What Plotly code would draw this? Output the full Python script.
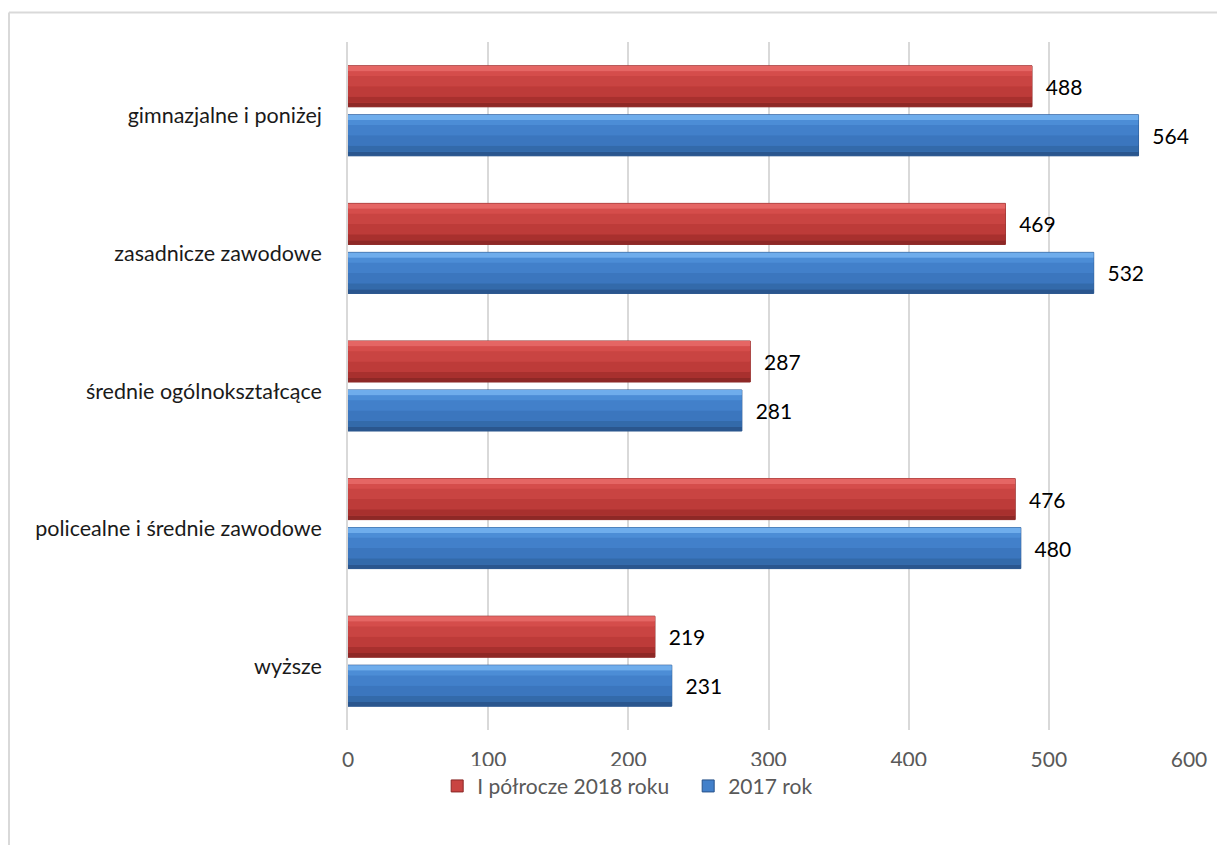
import plotly.graph_objects as go

categories = ["wyższe", "policealne i średnie zawodowe", "średnie ogólnokształcące",
              "zasadnicze zawodowe", "gimnazjalne i poniżej"]
values_2018 = [219, 476, 287, 469, 488]
values_2017 = [231, 480, 281, 532, 564]
name_2018 = "I półrocze 2018 roku"
name_2017 = "2017 rok"
x_ticks = [0, 100, 200, 300, 400, 500, 600]

FONT = "Lato, Carlito, Calibri, sans-serif"
BAR_W = 0.298
RED_OFF = 0.029
BLUE_OFF = -0.327

# gradient bands: (start fraction from bottom, height fraction, colour)
RED_BANDS = [(0.00, 0.10, "#8E2826"), (0.10, 0.15, "#A8302E"), (0.25, 0.25, "#BD3B39"),
             (0.50, 0.25, "#C94442"), (0.75, 0.12, "#D54D4B"), (0.87, 0.13, "#E56664")]
BLUE_BANDS = [(0.00, 0.10, "#2A568E"), (0.10, 0.15, "#336AAA"), (0.25, 0.25, "#3B76BE"),
              (0.50, 0.25, "#4280CA"), (0.75, 0.12, "#4C8DD6"), (0.87, 0.13, "#6FADEC")]

fig = go.Figure()

def add_series(vals, name, off, bands, edge, rank):
    fig.add_trace(go.Bar(
        y=categories, x=vals, orientation="h", name=name,
        width=BAR_W, offset=off,
        marker=dict(color=bands[3][2], line=dict(color=edge, width=1)),
        text=vals, texttemplate="  %{x}", textposition="outside",
        textfont=dict(family=FONT, size=21, color="#000000"),
        cliponaxis=False, legendrank=rank,
    ))
    for start, h, col in bands:
        fig.add_trace(go.Bar(
            y=categories, x=vals, orientation="h", showlegend=False, hoverinfo="skip",
            width=BAR_W * h, offset=off + BAR_W * start,
            marker=dict(color=col, line=dict(width=0)),
        ))

add_series(values_2017, name_2017, BLUE_OFF, BLUE_BANDS, "#27528A", 2)
add_series(values_2018, name_2018, RED_OFF, RED_BANDS, "#8A2725", 1)

fig.update_layout(
    width=1225, height=845,
    margin=dict(l=340, r=44, t=34, b=123),
    paper_bgcolor="white", plot_bgcolor="white",
    barmode="overlay",
    font=dict(family=FONT, size=18, color="#000000"),
    showlegend=True,
    legend=dict(orientation="h", x=0.4045, xanchor="center", y=-0.052, yanchor="top",
                font=dict(family=FONT, size=21, color="#595959"),
                itemwidth=30, tracegroupgap=0, entrywidth=206, entrywidthmode="pixels"),
    xaxis=dict(range=[0, 600], tickvals=x_ticks, showgrid=True, gridcolor="#D9D9D9",
               gridwidth=1.5, zeroline=False, showline=False,
               ticks="outside", ticklen=0, ticklabelstandoff=11,
               tickfont=dict(family=FONT, size=21, color="#595959"), fixedrange=True),
    yaxis=dict(categoryorder="array", categoryarray=categories, showgrid=False,
               showline=True, linecolor="#D9D9D9", linewidth=1.5,
               ticks="", ticklabelstandoff=20, ticklabelshift=5,
               tickfont=dict(family=FONT, size=21.5, color="#1A1A1A"), range=[-0.5, 4.5]),
    shapes=[
        dict(type="line", xref="paper", yref="paper", x0=-0.4031, x1=1.06, y0=1.0429, y1=1.0429,
             line=dict(color="#D9D9D9", width=2)),
        dict(type="line", xref="paper", yref="paper", x0=-0.4031, x1=-0.4031, y0=1.0429, y1=-0.2,
             line=dict(color="#D9D9D9", width=2)),
    ],
)

fig.write_html("out.html")
